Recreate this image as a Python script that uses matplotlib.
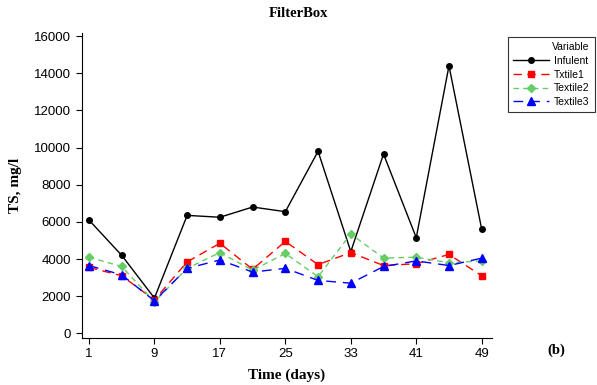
import matplotlib
matplotlib.use("Agg")
import matplotlib.pyplot as plt

days = [1, 5, 9, 13, 17, 21, 25, 29, 33, 37, 41, 45, 49]
infulent = [6100, 4200, 1900, 6350, 6250, 6800, 6550, 9800, 4400, 9650, 5150, 14400, 5600]
txtile1 = [3550, 3100, 1800, 3850, 4850, 3450, 4950, 3700, 4350, 3650, 3750, 4250, 3100]
textile2 = [4100, 3600, 1700, 3500, 4350, 3400, 4300, 3050, 5350, 4050, 4100, 3800, 3900]
textile3 = [3650, 3150, 1750, 3500, 3950, 3300, 3500, 2850, 2700, 3600, 3900, 3650, 4050]
xticks = [1, 9, 17, 25, 33, 41, 49]
yticks = [0, 2000, 4000, 6000, 8000, 10000, 12000, 14000, 16000]

fig = plt.figure(figsize=(5.97, 3.85), dpi=100)
ax = fig.add_axes([0.1367, 0.122, 0.688, 0.792])

serif = ["Liberation Serif", "DejaVu Serif"]
sans = ["Liberation Sans", "DejaVu Sans"]

ax.plot(days, infulent, color="black", lw=1.0, marker="o", ms=4, label="Infulent")
ax.plot(days, txtile1, color="#FF0000", lw=1.0, ls=(0, (6, 4)), marker="s", ms=4.5, label="Txtile1")
ax.plot(days, textile2, color="#66CC66", lw=1.0, ls=(0, (4, 3)), marker="D", ms=4.5, label="Textile2")
ax.plot(days, textile3, color="#0000FF", lw=1.0, ls=(0, (7, 5)), marker="^", ms=5.5, label="Textile3")

ax.set_xlim(0.1, 50.3)
ax.set_ylim(-250, 16160)
ax.set_xticks(xticks)
ax.set_yticks(yticks)
ax.tick_params(direction="out", length=4, width=0.8, labelsize=9.5)
for lab in ax.get_xticklabels() + ax.get_yticklabels():
    lab.set_family(sans)
for s in ["top", "right"]:
    ax.spines[s].set_visible(False)

fig.text(0.5, 0.965, "FilterBox", ha="center", va="center", fontsize=10.5, fontweight="bold", family=serif)
ax.set_xlabel("Time (days)", fontsize=11, fontweight="bold", family=serif, labelpad=6)
ax.set_ylabel("TS, mg/l", fontsize=11, fontweight="bold", family=serif, labelpad=9)
fig.text(0.932, 0.09, "(b)", ha="center", va="center", fontsize=10.5, fontweight="bold", family=serif)

leg = ax.legend(loc="upper left", bbox_to_anchor=(503 / 597, 1 - 32 / 385), bbox_transform=fig.transFigure,
                title="Variable", frameon=True, fancybox=False,
                edgecolor="black", handlelength=3.4, borderpad=0.5, labelspacing=0.35, handletextpad=0.5,
                prop={"family": sans, "size": 7.5})
leg.get_frame().set_linewidth(0.8)
leg.get_title().set_family(sans)
leg.get_title().set_fontsize(7.5)
leg._legend_box.align = "right"

fig.savefig("out.png", dpi=100)
